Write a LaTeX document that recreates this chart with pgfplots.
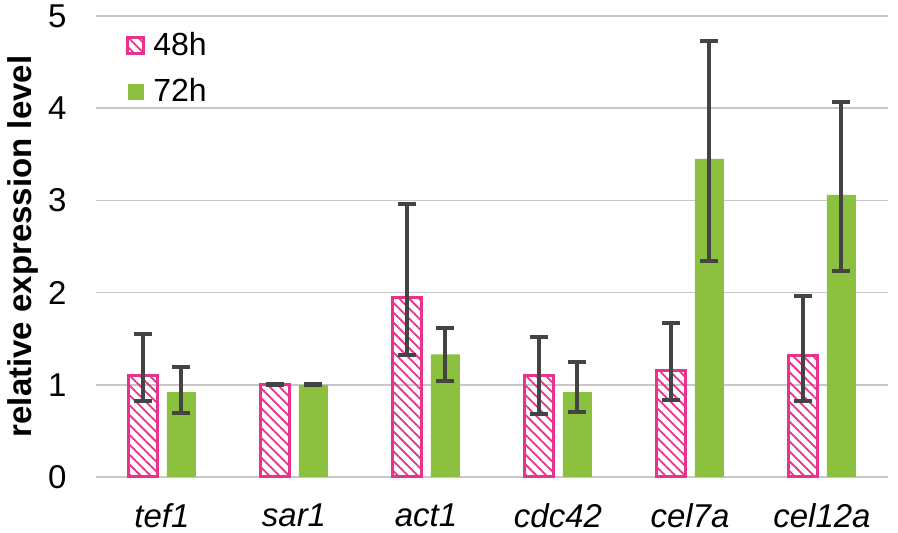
\documentclass[border=0pt]{standalone}
\usepackage{fontspec}
\setmainfont{Liberation Sans}
\usepackage{pgfplots}
\usepackage{pgfplotstable}
\pgfplotsset{compat=1.18}
\usetikzlibrary{patterns.meta}

\definecolor{pinkc}{RGB}{232,50,140}
\definecolor{greenc}{RGB}{140,193,64}
\definecolor{errc}{RGB}{68,68,68}
\definecolor{gridc}{RGB}{200,200,200}

% x y plus minus
\pgfplotstableread{
x y ep em
0 1.10 0.45 0.28
1 1.00 0.005 0.005
2 1.95 1.01 0.63
3 1.10 0.42 0.42
4 1.15 0.52 0.31
5 1.32 0.64 0.50
}\hfortyeight

\pgfplotstableread{
x y ep em
0 0.92 0.27 0.23
1 1.00 0.005 0.005
2 1.33 0.29 0.29
3 0.92 0.33 0.22
4 3.45 1.28 1.11
5 3.06 1.01 0.83
}\hseventytwo

\begin{document}
\begin{tikzpicture}
\begin{axis}[
    name=ax,
    scale only axis,
    width=396pt, height=230.5pt,
    xmin=-0.5, xmax=5.5,
    ymin=0, ymax=5,
    xtick={0,1,2,3,4,5},
    xticklabels={tef1,sar1,act1,cdc42,cel7a,cel12a},
    ytick={0,1,2,3,4,5},
    axis line style={draw=none},
    major tick length=0pt,
    ymajorgrids=true,
    grid style={gridc, line width=0.8pt},
    /pgf/number format/assume math mode=true,
    yticklabel style={font=\fontsize{16.5}{20}\selectfont, inner sep=0pt, xshift=-14.5pt},
    xticklabel style={font=\fontsize{16.5}{20}\selectfont\itshape, inner sep=0pt, yshift=-13pt},
    ylabel={relative expression level},
    ylabel style={font=\fontsize{16.5}{20}\selectfont\bfseries, inner sep=0pt,
        at={(axis description cs:-0.0720,0.5)}, anchor=south},
    bar width=14.5pt,
    legend style={draw=none, fill=none, at={(axis description cs:0,1)}, anchor=north west,
        xshift=12pt, yshift=-4pt, font=\fontsize{16}{20}\selectfont, row sep=6pt,
        /tikz/every odd column/.append style={column sep=2pt}},
    legend cell align=left,
    clip=false,
]
\addplot[ybar, bar shift=0pt, draw=pinkc, line width=1.5pt,
    pattern={Lines[angle=-45,distance=3.5pt,line width=0.9pt]}, pattern color=pinkc,
    legend image code/.code={\draw[pinkc, line width=1.5pt,
        pattern={Lines[angle=-45,distance=3.5pt,line width=0.9pt]}, pattern color=pinkc]
        (0pt,-4pt) rectangle (8pt,4pt);},
    error bars/.cd, y dir=both, y explicit,
    error bar style={errc, line width=2pt},
    error mark options={errc, line width=2pt, mark size=4.5pt, rotate=90}]
    table[x expr=\thisrow{x}-0.1402, y=y, y error plus=ep, y error minus=em] {\hfortyeight};
\addlegendentry{48h}
\addplot[ybar, bar shift=0pt, draw=none, fill=greenc,
    legend image code/.code={\fill[greenc] (0pt,-4pt) rectangle (8pt,4pt);},
    error bars/.cd, y dir=both, y explicit,
    error bar style={errc, line width=2pt},
    error mark options={errc, line width=2pt, mark size=4.5pt, rotate=90}]
    table[x expr=\thisrow{x}+0.1477, y=y, y error plus=ep, y error minus=em] {\hseventytwo};
\addlegendentry{72h}
\end{axis}
\pgfresetboundingbox
\path[use as bounding box] ([xshift=-48pt,yshift=-28pt]ax.south west) rectangle ([xshift=5pt,yshift=8pt]ax.north east);
\end{tikzpicture}
\end{document}
